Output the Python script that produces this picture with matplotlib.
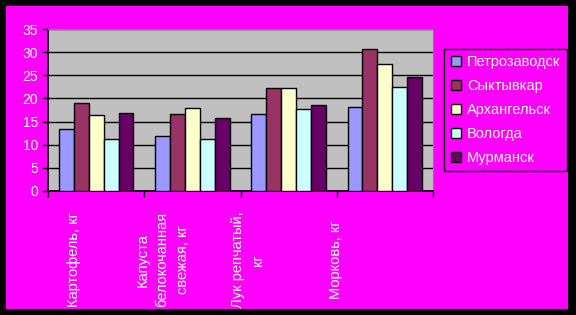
import matplotlib.pyplot as plt
import matplotlib.transforms as mtransforms
import numpy as np

plt.rcParams['font.family'] = ['Liberation Sans', 'DejaVu Sans']

# chart data
categories = ['Картофель, кг', 'Капуста\nбелокочанная\nсвежая, кг',
              'Лук репчатый,\nкг', 'Морковь, кг']
cities = ['Петрозаводск', 'Сыктывкар', 'Архангельск', 'Вологда', 'Мурманск']
petrozavodsk = [13.4, 11.8, 16.6, 18.1]
syktyvkar = [19.0, 16.6, 22.2, 30.7]
arkhangelsk = [16.4, 17.9, 22.2, 27.4]
vologda = [11.2, 11.2, 17.7, 22.4]
murmansk = [16.8, 15.7, 18.5, 24.6]

colors = ['#9999FF', '#993366', '#FFFFCC', '#CCFFFF', '#660066']
label_shift = [-0.23, -0.31, -0.42, -0.51]  # excel put the labels left of centre

fig = plt.figure(figsize=(5.76, 3.15), dpi=100, facecolor='black')

# magenta chart area inside the black frame
bg = fig.add_axes([6 / 576, 6 / 315, 562 / 576, 303 / 315], zorder=-1)
bg.set_facecolor('#FF00FF')
bg.set_xticks([])
bg.set_yticks([])
for sp in bg.spines.values():
    sp.set_visible(False)

ax = fig.add_axes([48 / 576, 124 / 315, 385 / 576, 162 / 315])
ax.set_facecolor('#C0C0C0')

series = [petrozavodsk, syktyvkar, arkhangelsk, vologda, murmansk]
x = np.arange(len(categories))
width = 0.155
for i, (name, vals) in enumerate(zip(cities, series)):
    ax.bar(x + (i - 2) * width, vals, width, color=colors[i], edgecolor='black',
           linewidth=1, label=name, zorder=3)

ax.set_xlim(-0.5, len(categories) - 0.5)
ax.set_ylim(0, 35)
ax.set_yticks(range(0, 36, 5))
ax.yaxis.grid(True, color='black', linewidth=1, zorder=1)
ax.set_axisbelow(True)
ax.set_xticks(np.arange(len(categories) + 1) - 0.5)
ax.set_xticklabels([])
ax.tick_params(axis='both', direction='out', length=4, color='black', width=1)
ax.tick_params(axis='y', labelsize=10, labelcolor='white', pad=3)
for side in ('left', 'bottom'):
    ax.spines[side].set_color('black')
    ax.spines[side].set_linewidth(1.2)
for side in ('top', 'right'):
    ax.spines[side].set_color('#808080')

trans = mtransforms.blended_transform_factory(ax.transData, fig.transFigure)
for i, cat in enumerate(categories):
    ax.text(i + label_shift[i], 0.175, cat, transform=trans,
            rotation=90, ha='center', va='center', multialignment='center',
            color='white', fontsize=10.5, linespacing=1.55)

leg = fig.legend(loc='center', bbox_to_anchor=(445 / 576, 147 / 315, 121 / 576, 116 / 315),
                 frameon=True, fancybox=False, facecolor='#FF00FF', edgecolor='black',
                 framealpha=1, fontsize=10.5, labelcolor='white', handlelength=0.7,
                 handleheight=0.7, handletextpad=0.4, labelspacing=0.68, borderpad=0.45)
leg.get_frame().set_linewidth(1)

fig.savefig('out.png', dpi=100, facecolor=fig.get_facecolor())
